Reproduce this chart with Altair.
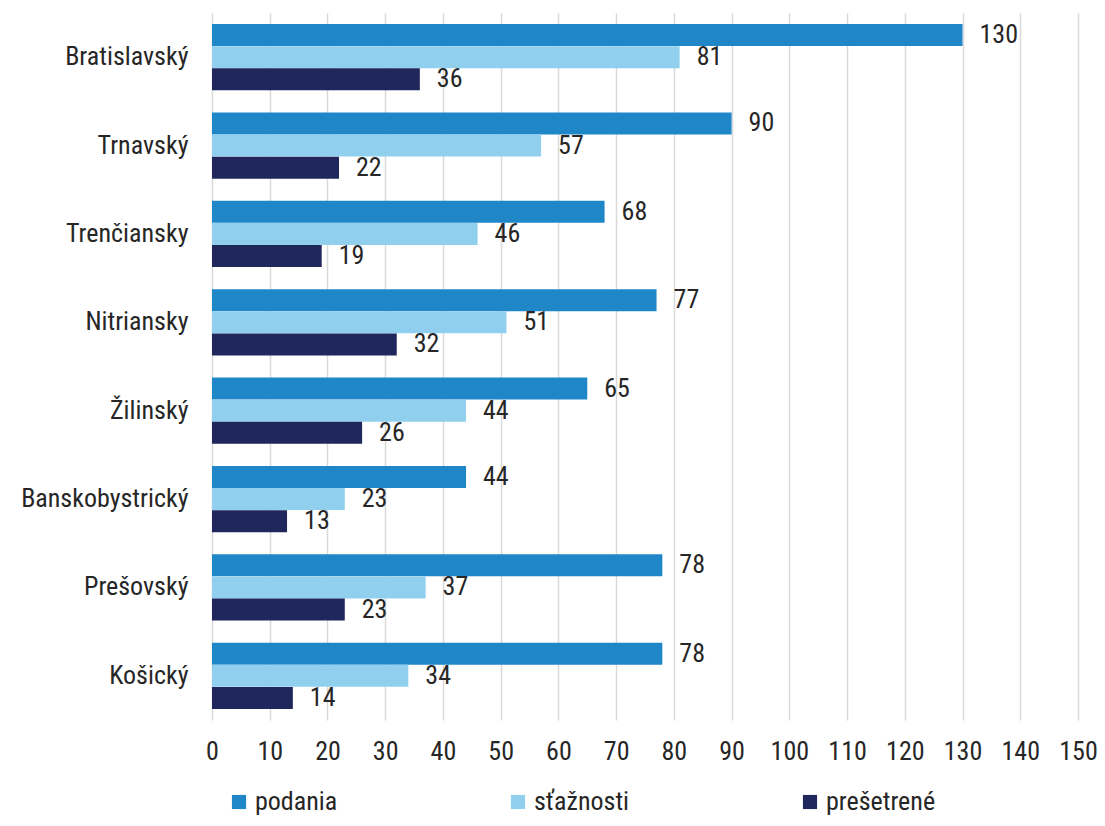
import altair as alt
import pandas as pd

regions = ["Bratislavský", "Trnavský", "Trenčiansky", "Nitriansky", "Žilinský",
           "Banskobystrický", "Prešovský", "Košický"]
series = ["podania", "sťažnosti", "prešetrené"]
podania = [130, 90, 68, 77, 65, 44, 78, 78]
staznosti = [81, 57, 46, 51, 44, 23, 37, 34]
presetrene = [36, 22, 19, 32, 26, 13, 23, 14]
colors = ["#1F87C8", "#90D0EE", "#1F275D"]
x_ticks = list(range(0, 151, 10))

rows = []
for i, r in enumerate(regions):
    for s, vals in zip(series, [podania, staznosti, presetrene]):
        rows.append({"region": r, "series": s, "value": vals[i]})
df = pd.DataFrame(rows)

FONT = "'Roboto Condensed', 'Liberation Sans Narrow', 'DejaVu Sans Condensed', Roboto"
FS = 26

y_enc = alt.Y("region:N", sort=regions,
              scale=alt.Scale(paddingInner=0.25, paddingOuter=0.125),
              axis=alt.Axis(title=None, domain=False, ticks=False, labelPadding=24,
                            labelFontSize=FS, labelColor="#262626", labelFont=FONT,
                            grid=False))
yoff = alt.YOffset("series:N", sort=series, scale=alt.Scale(paddingInner=0, paddingOuter=0))
x_enc = alt.X("value:Q", scale=alt.Scale(domain=[0, 150], nice=False),
              axis=alt.Axis(title=None, values=x_ticks, domain=False, ticks=False,
                            labelPadding=18, labelFontSize=FS, labelColor="#262626",
                            labelFont=FONT, labelFlush=False, labelOverlap=False,
                            grid=True, gridColor="#d9d9d9", gridWidth=1.5))

base = alt.Chart(df)
bars = base.mark_bar(size=22).encode(
    y=y_enc, yOffset=yoff, x=x_enc,
    color=alt.Color("series:N", sort=series,
                    scale=alt.Scale(domain=series, range=colors),
                    legend=alt.Legend(title=None, orient="none", legendX=14, legendY=776,
                                      direction="horizontal",
                                      symbolType="square", symbolSize=200, symbolStrokeWidth=0,
                                      labelFontSize=FS, labelColor="#262626", labelFont=FONT,
                                      columnPadding=167, symbolOffset=0,
                                      labelOffset=3)),
)
labels = base.mark_text(align="left", baseline="middle", dx=17, fontSize=FS,
                        font=FONT, color="#262626").encode(
    y=alt.Y("region:N", sort=regions), yOffset=alt.YOffset("series:N", sort=series),
    x="value:Q", text="value:Q")

chart = alt.layer(bars, labels).properties(
    width=866, height=707,
    autosize=alt.AutoSizeParams(type="none"),
    padding={"left": 204, "top": 5, "right": 19, "bottom": 98},
).configure_view(stroke=None).configure_legend(padding=0)

chart.save("out.html", embed_options={"renderer": "svg", "actions": False})
